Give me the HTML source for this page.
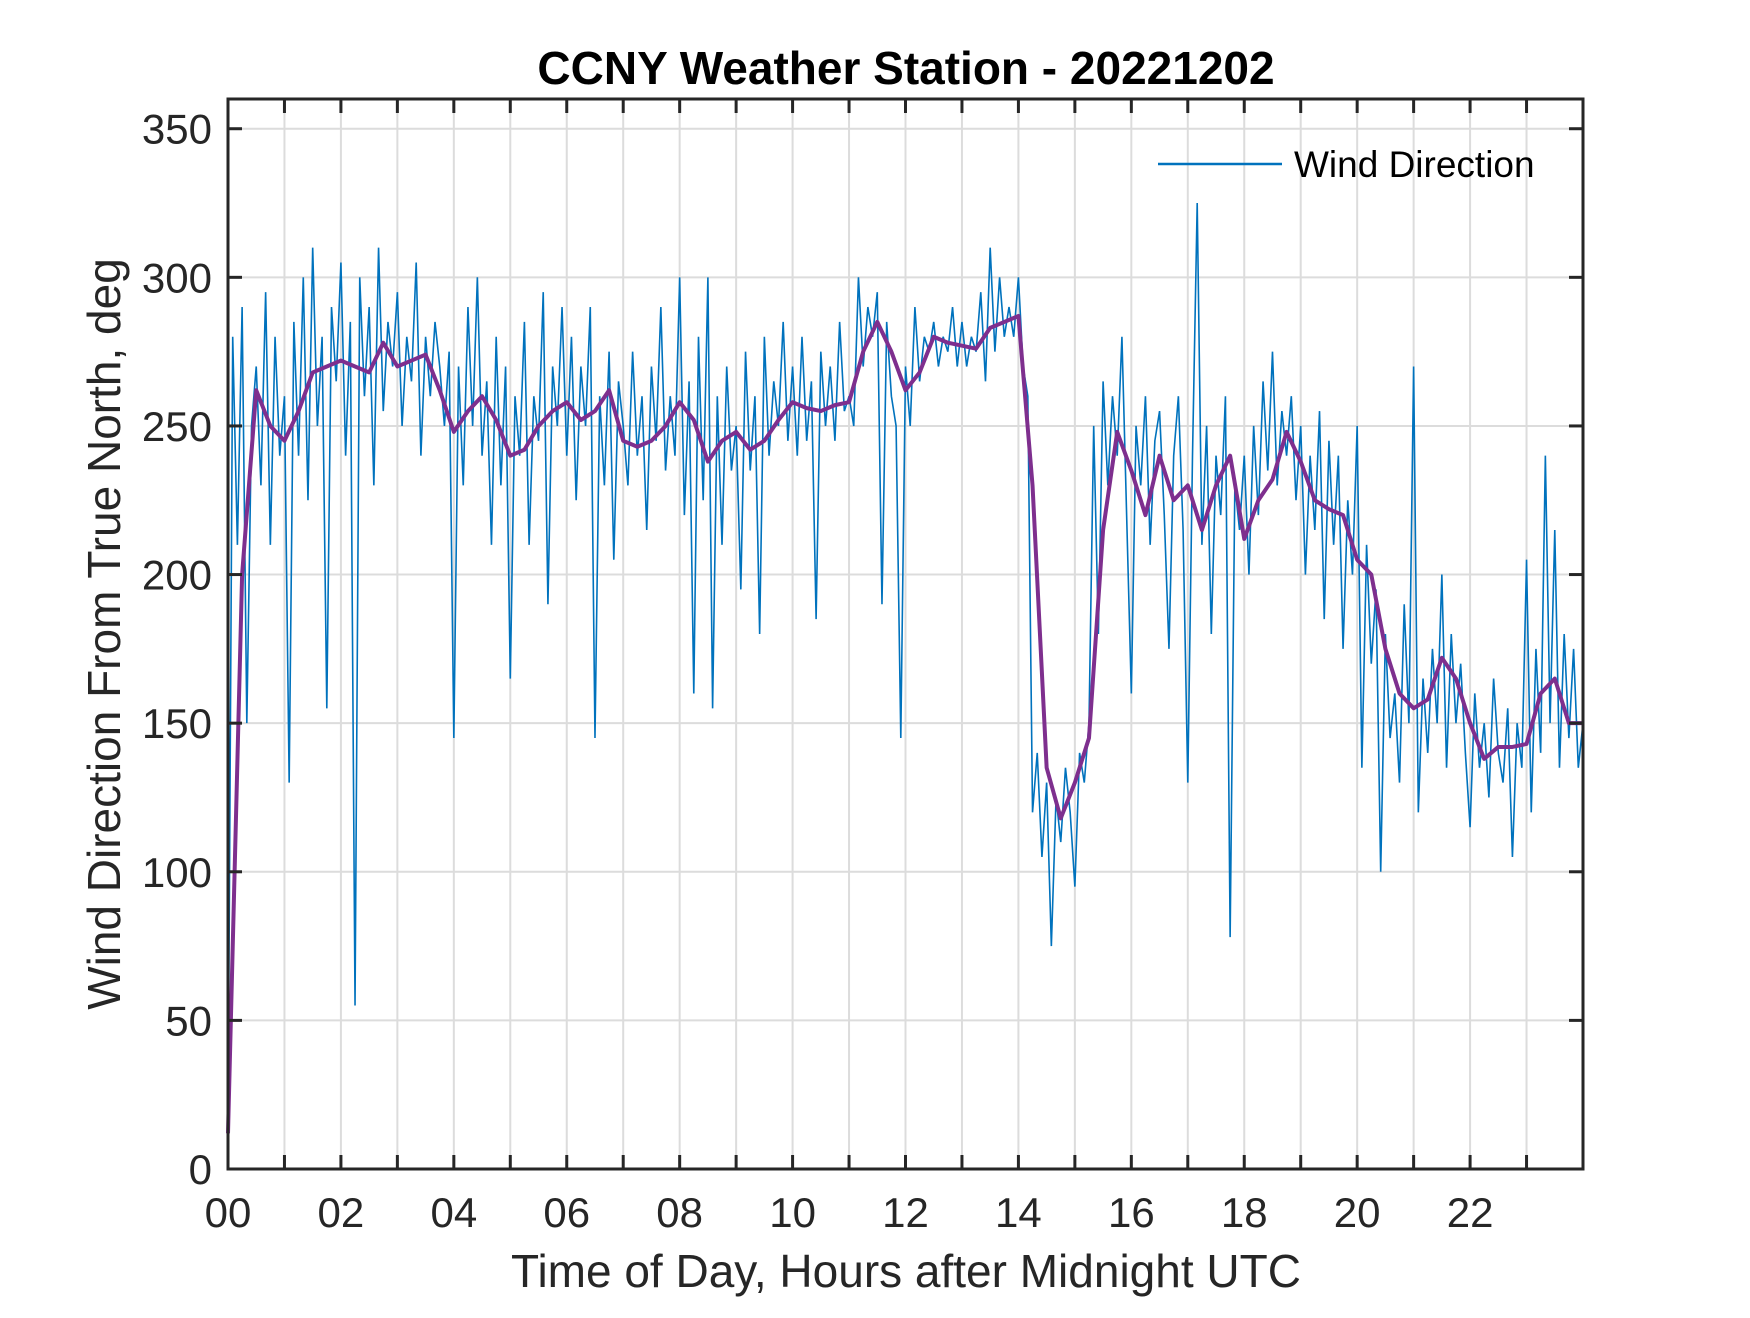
<!DOCTYPE html>
<html><head><meta charset="utf-8"><style>
body{margin:0;background:#fff;}
svg text{font-family:"Liberation Sans",Arial,sans-serif;fill:#262626;}
</style></head><body>
<svg id="chart" width="1750" height="1313" viewBox="0 0 1750 1313" xmlns="http://www.w3.org/2000/svg">
<rect width="1750" height="1313" fill="#fff"/>
<g id="grid"></g>
<g id="series"></g>
<g id="axes"></g>
<text x="906" y="84" text-anchor="middle" font-size="46" font-weight="bold" style="fill:#000">CCNY Weather Station - 20221202</text>
<text x="906" y="1287" text-anchor="middle" font-size="46">Time of Day, Hours after Midnight UTC</text>
<text transform="translate(120,634) rotate(-90)" text-anchor="middle" font-size="46">Wind Direction From True North, deg</text>
<g>
<line x1="1158" y1="164" x2="1282" y2="164" stroke="#0072BD" stroke-width="2.5"/>
<text x="1294" y="177" font-size="37" style="fill:#000">Wind Direction</text>
</g>
</svg>
<script>
const xTicks=[0,2,4,6,8,10,12,14,16,18,20,22];
const xTickLabels=["00","02","04","06","08","10","12","14","16","18","20","22"];
const yTicks=[0,50,100,150,200,250,300,350];
const avgValues=[12,200,262,250,245,255,268,270,272,270,268,278,270,272,274,262,248,255,260,252,240,242,250,255,258,252,255,262,245,243,245,250,258,252,238,245,248,242,245,252,258,256,255,257,258,275,285,275,262,268,280,278,277,276,283,285,287,230,135,118,130,145,215,248,235,220,240,225,230,215,230,240,212,225,232,248,238,225,222,220,205,200,175,160,155,158,172,165,150,138,142,142,143,160,165,150,150];
const windValues=[
12,280,210,290,150,250,270,230,295,210,280,240,
260,130,285,240,300,225,310,250,280,155,290,265,
305,240,285,55,300,260,290,230,310,255,285,270,
295,250,280,265,305,240,280,260,285,270,250,275,
145,270,230,290,250,300,240,265,210,280,230,270,
165,260,240,285,210,260,245,295,190,270,250,290,
240,280,225,270,250,290,145,260,230,275,205,265,
250,230,275,240,260,215,270,245,290,235,260,240,
300,220,265,160,280,225,300,155,260,210,270,235,
250,195,275,235,260,180,280,240,265,250,285,245,
270,240,280,245,265,185,275,250,270,245,285,255,
260,250,300,270,290,280,295,190,285,260,250,145,
270,250,290,265,280,275,285,270,280,275,290,270,
285,270,280,275,295,265,310,275,300,280,290,280,
300,270,260,120,140,105,130,75,125,110,135,120,
95,140,130,150,250,180,265,230,260,240,280,220,
160,250,230,260,210,245,255,220,175,240,260,215,
130,240,325,210,250,180,240,220,260,78,230,215,
240,200,250,220,265,235,275,230,255,240,260,225,
250,200,240,215,255,185,245,210,240,175,225,200,
250,135,210,170,195,100,180,145,160,130,190,150,
270,120,165,140,175,150,200,135,180,150,170,140,
115,160,135,150,125,165,140,130,155,105,150,135,
205,120,175,140,240,150,215,135,180,145,175,135,
150];
const X0=228,X1=1583,Y0=1169,Y1=99,XMAX=24,YMAX=360;
const xs=h=>X0+(h/XMAX)*(X1-X0);
const ys=v=>Y0-(v/YMAX)*(Y0-Y1);
const NS="http://www.w3.org/2000/svg";
function mk(tag,parent){const e=document.createElementNS(NS,tag);document.getElementById(parent).appendChild(e);return e;}
for(let h=1;h<24;h++){const l=mk('line','grid');


l.setAttribute('x1',xs(h));l.setAttribute('x2',xs(h));l.setAttribute('y1',Y1);l.setAttribute('y2',Y0);l.setAttribute('stroke','#dcdcdc');l.setAttribute('stroke-width','2');}
yTicks.forEach(v=>{if(v===0)return;const l=mk('line','grid');


l.setAttribute('x1',X0);l.setAttribute('x2',X1);l.setAttribute('y1',ys(v));l.setAttribute('y2',ys(v));l.setAttribute('stroke','#dcdcdc');l.setAttribute('stroke-width','2');});
const wind=mk('polyline','series');


wind.setAttribute('points',windValues.map((v,i)=>xs(i*XMAX/(windValues.length-1))+','+ys(v)).join(' '));
wind.setAttribute('fill','none');wind.setAttribute('stroke','#0072BD');wind.setAttribute('stroke-width','1.6');
const avg=mk('polyline','series');


avg.setAttribute('points',avgValues.map((v,i)=>xs(i*XMAX/(avgValues.length-1))+','+ys(v)).join(' '));
avg.setAttribute('fill','none');avg.setAttribute('stroke','#7E2F8E');avg.setAttribute('stroke-width','4');avg.setAttribute('stroke-linejoin','round');
const box=mk('rect','axes');


box.setAttribute('x',X0);box.setAttribute('y',Y1);box.setAttribute('width',X1-X0);box.setAttribute('height',Y0-Y1);box.setAttribute('fill','none');box.setAttribute('stroke','#262626');box.setAttribute('stroke-width','3');
for(let h=1;h<24;h++){[[Y0,Y0-14],[Y1,Y1+14]].forEach(p=>{const t=mk('line','axes');


t.setAttribute('x1',xs(h));t.setAttribute('x2',xs(h));t.setAttribute('y1',p[0]);t.setAttribute('y2',p[1]);t.setAttribute('stroke','#262626');t.setAttribute('stroke-width','3');});}
xTicks.forEach((h,i)=>{const t=mk('text','axes');


t.setAttribute('x',xs(h));t.setAttribute('y',1227);t.setAttribute('text-anchor','middle');t.setAttribute('font-size','42');t.textContent=xTickLabels[i];});
yTicks.forEach(v=>{[[X0,X0+14],[X1,X1-14]].forEach(p=>{const t=mk('line','axes');


t.setAttribute('x1',p[0]);t.setAttribute('x2',p[1]);t.setAttribute('y1',ys(v));t.setAttribute('y2',ys(v));t.setAttribute('stroke','#262626');t.setAttribute('stroke-width','3');});
const l=mk('text','axes');


l.setAttribute('x',212);l.setAttribute('y',ys(v)+15);l.setAttribute('text-anchor','end');l.setAttribute('font-size','42');l.textContent=v;});
</script>
</body></html>
